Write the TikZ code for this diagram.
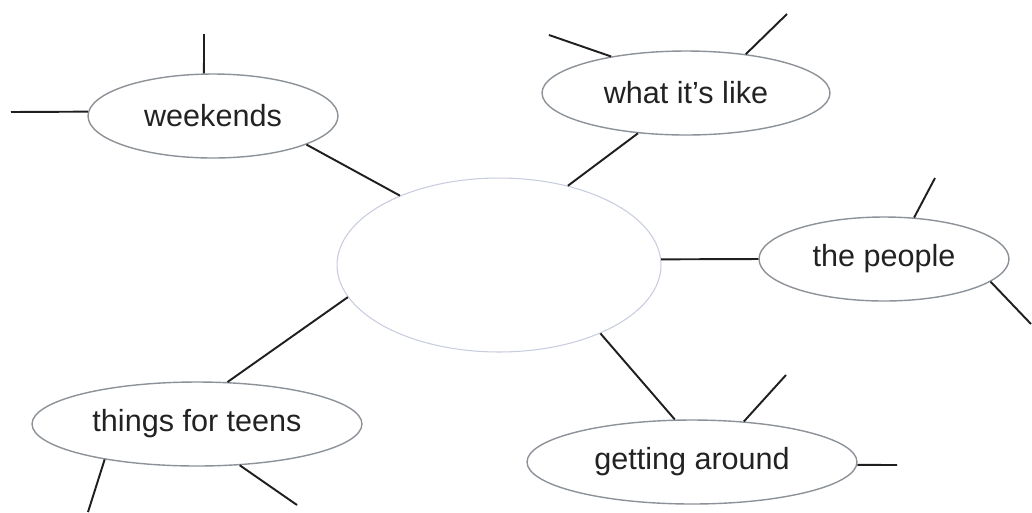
\documentclass[tikz,border=0pt]{standalone}
\usepackage{fontspec}
\setmainfont{Liberation Sans}
\usepackage{xcolor}
\usetikzlibrary{shapes.geometric}

\definecolor{rimgray}{RGB}{140,146,152}
\definecolor{hubrim}{RGB}{200,205,222}
\definecolor{inkgray}{RGB}{34,34,34}

\begin{document}
\begin{tikzpicture}[
    x=0.02cm, y=-0.02cm,
    topic/.style={draw=rimgray, line width=0.8pt, ellipse, inner sep=0pt, minimum height=1.68cm,
        text=inkgray, font=\fontsize{17.4}{20}\selectfont},
    hub/.style={draw=hubrim, line width=0.6pt, ellipse, inner sep=0pt, minimum width=6.48cm, minimum height=3.48cm},
    spoke/.style={line width=1.1pt, black!88}
]
\useasboundingbox (0,0) rectangle (1032,512);

\node[hub] (hub) at (499,265) {};
\node[topic, minimum width=5cm] (weekends) at (213,116) {weekends};
\node[topic, minimum width=5.76cm] (like) at (686,93) {what it’s like};
\node[topic, minimum width=5cm] (people) at (884,259) {the people};
\node[topic, minimum width=6.6cm] (teens) at (197,424) {things for teens};
\node[topic, minimum width=6.6cm] (around) at (692,462) {getting around};

% free ends of the side spokes
\coordinate (wkN) at (204,34);
\coordinate (wkW) at (11,112);
\coordinate (likeW) at (549,35);
\coordinate (likeNE) at (787,14);
\coordinate (pplN) at (935,178);
\coordinate (pplSE) at (1031,324);
\coordinate (teensSW) at (88,512);
\coordinate (teensSE) at (297,505);
\coordinate (aroundNE) at (786,375);
\coordinate (aroundE) at (897,465);

% hub to topics
\draw[spoke] (weekends.-17) -- (hub.145);
\draw[spoke] (like.220) -- (hub.49);
\draw[spoke] (hub.2) -- (people.west);
\draw[spoke] (teens.54) -- (hub.192);
\draw[spoke] (hub.-34) -- (around.112);

% side spokes
\draw[spoke] (weekends.102) -- (wkN);
\draw[spoke] (weekends.178) -- (wkW);
\draw[spoke] (like.154) -- (likeW);
\draw[spoke] (like.33) -- (likeNE);
\draw[spoke] (people.54) -- (pplN);
\draw[spoke] (people.-12) -- (pplSE);
\draw[spoke] (teens.201) -- (teensSW);
\draw[spoke] (teens.-44) -- (teensSE);
\draw[spoke] (around.38) -- (aroundNE);
\draw[spoke] (around.-1) -- (aroundE);
\end{tikzpicture}
\end{document}
